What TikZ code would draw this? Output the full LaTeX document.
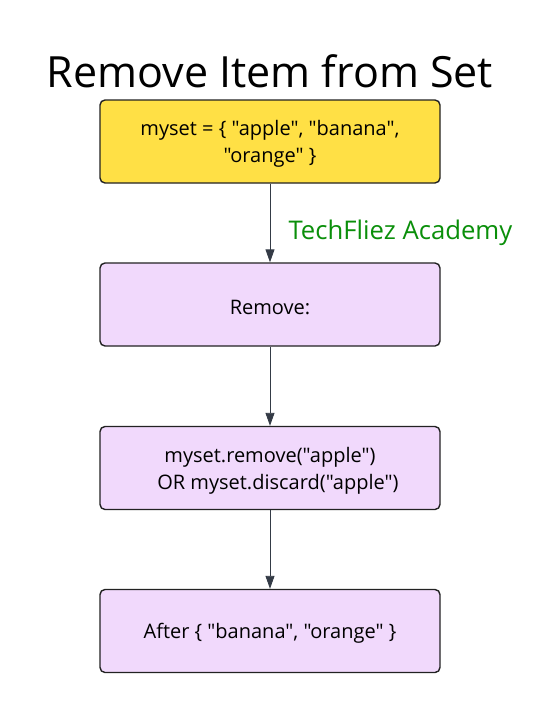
\documentclass[tikz,border=0pt]{standalone}
\usepackage{fontspec}
\newfontfamily\mf{Open Sans}
\usetikzlibrary{arrows.meta}
\definecolor{ylw}{HTML}{FFE045}
\definecolor{lil}{HTML}{F1D9FC}
\definecolor{edge}{HTML}{222222}
\definecolor{arr}{HTML}{343B46}
\definecolor{grn}{HTML}{0A8F0A}
\begin{document}
\begin{tikzpicture}[x=1pt,y=-1pt,
  every node/.style={font=\mf},
  box/.style={draw=edge,line width=1.4pt,rounded corners=5pt,minimum width=340pt,minimum height=83pt,inner sep=0pt},
  txt/.style={align=center,font=\mf\fontsize{20}{27}\selectfont,inner sep=0pt},
  conn/.style={draw=arr,line width=0.9pt,-{Triangle[length=13pt,width=9pt]}}]
\useasboundingbox (0,0) rectangle (560,713);
\node[font=\mf\fontsize{43}{48}\selectfont] (title) at (270,71.5) {Remove Item from Set};
\node[box,fill=ylw] (b1) at (270,141.5) {};
\node[box,fill=lil] (b2) at (270,304.5) {};
\node[box,fill=lil] (b3) at (270,468) {};
\node[box,fill=lil] (b4) at (270,631) {};
\node[txt] (t1) at (270,144) {myset = \{ "apple", "banana",\\ "orange" \}};
\node[txt] (t2) at (270,307) {Remove:};
\node[txt] (t3) at (270,471) {myset.remove("apple")\\ \hspace*{16pt}OR myset.discard("apple")};
\node[txt] (t4) at (270,633.5) {After \{ "banana", "orange" \}};
\node[font=\mf\fontsize{25.7}{28}\selectfont,text=grn,anchor=west] (lab) at (285,233) {TechFliez Academy};
\draw[conn] (b1) -- (b2);
\draw[conn] (b2) -- (b3);
\draw[conn] (b3) -- (b4);
\end{tikzpicture}
\end{document}
